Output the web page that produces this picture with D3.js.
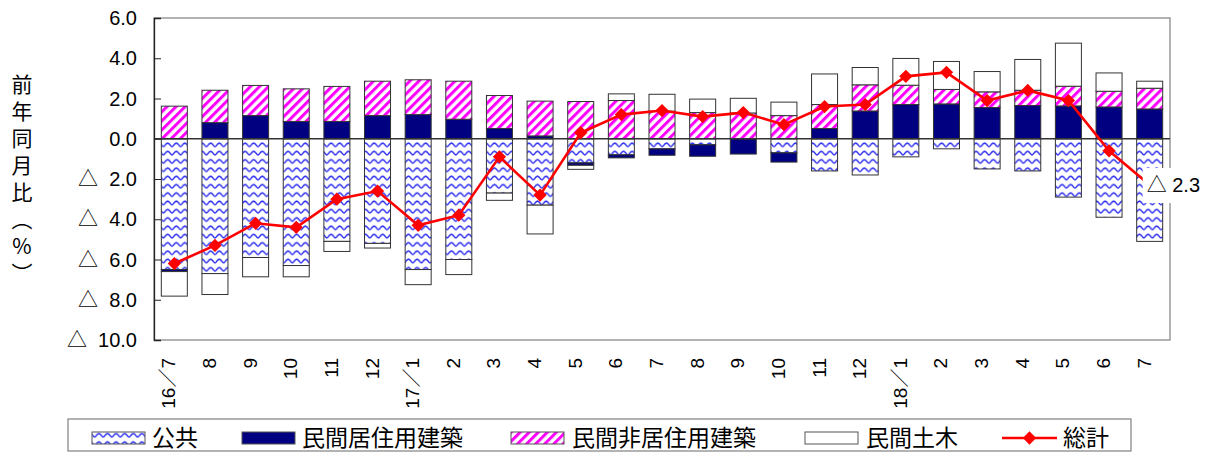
<!DOCTYPE html>
<html>
<head>
<meta charset="utf-8">
<script src="https://cdn.jsdelivr.net/npm/d3@7"></script>
<style>
  body { margin: 0; background: #fff; }
  svg text { font-family: "Liberation Sans", "Noto Sans CJK JP", sans-serif; fill: #000; }
  .jp { font-family: "Noto Sans CJK JP", sans-serif; }
</style>
</head>
<body>
<script>
// month labels along the bottom
var months = ["16／7","8","9","10","11","12","17／1","2","3","4","5","6","7","8","9","10","11","12","18／1","2","3","4","5","6","7"];

// contributions by sector (% points)
var publicWorks = [-6.5,-6.7,-5.9,-6.3,-5.1,-5.2,-6.5,-6.0,-2.7,-3.3,-1.2,-0.8,-0.5,-0.3,0.0,-0.7,-1.6,-1.8,-0.9,-0.5,-1.5,-1.6,-2.9,-3.9,-5.1];
var residential = [-0.1,0.8,1.15,0.86,0.86,1.15,1.2,0.97,0.51,0.14,-0.12,-0.15,-0.32,-0.57,-0.76,-0.46,0.51,1.38,1.7,1.73,1.55,1.65,1.63,1.58,1.48];
var nonResidential = [1.62,1.61,1.5,1.62,1.74,1.71,1.73,1.89,1.64,1.73,1.85,1.9,1.37,1.3,1.28,1.15,1.19,1.3,0.96,0.72,0.78,0.76,0.98,0.78,1.03];
var civil = [-1.22,-1.04,-0.96,-0.56,-0.5,-0.23,-0.75,-0.75,-0.36,-1.43,-0.2,0.33,0.84,0.67,0.73,0.67,1.52,0.86,1.33,1.39,1.01,1.53,2.14,0.91,0.35];
// overall year-on-year change
var total = [-6.2,-5.3,-4.2,-4.4,-3.0,-2.6,-4.3,-3.8,-0.9,-2.8,0.3,1.2,1.4,1.1,1.3,0.7,1.6,1.7,3.1,3.3,1.9,2.4,1.9,-0.6,-2.3];

var yTicks = [6,4,2,0,-2,-4,-6,-8,-10];
var seriesNames = ["公共","民間居住用建築","民間非居住用建築","民間土木","総計"];
var yTitle = "前年同月比︵%︶";

var W = 1216, H = 452;
var plot = {left: 154, right: 1170, top: 18, bottom: 340};

var svg = d3.select("body").append("svg")
    .attr("width", W)
    .attr("height", H);

var defs = svg.append("defs");
// wavy blue fill for 公共
var wave = defs.append("pattern")
    .attr("id", "wave")
    .attr("patternUnits", "userSpaceOnUse")
    .attr("width", 8.6).attr("height", 8.3);
wave.append("rect").attr("width", 8.6).attr("height", 8.3).attr("fill", "#fff");
wave.append("path")
    .attr("d", "M0,5.5 C1.4,5.5 2.2,2 4.3,2 C6.4,2 7.2,5.5 8.6,5.5")
    .attr("fill", "none")
    .attr("stroke", "#2a2af0")
    .attr("stroke-width", 1.5);
// magenta diagonal stripes for 民間非居住用建築
var stripe = defs.append("pattern")
    .attr("id", "stripe")
    .attr("patternUnits", "userSpaceOnUse")
    .attr("width", 6.4).attr("height", 6.4)
    .attr("patternTransform", "rotate(45)");
stripe.append("rect").attr("width", 6.4).attr("height", 6.4).attr("fill", "#fff");
stripe.append("rect").attr("width", 3).attr("height", 6.4).attr("fill", "#ff00ff");

var fills = ["url(#wave)", "#000080", "url(#stripe)", "#ffffff"];

// scales
var x = d3.scaleBand()
    .domain(d3.range(months.length))
    .range([plot.left, plot.right])
    .paddingInner(0.36)
    .paddingOuter(0.18);
var y = d3.scaleLinear().domain([-10, 6]).range([plot.bottom, plot.top]);

// stack: positives upward, negatives downward (like Excel)
var table = months.map(function(m, i) {
  return {i: i, v: [publicWorks[i], residential[i], nonResidential[i], civil[i]]};
});
var segs = [];
table.forEach(function(d) {
  var pos = 0, neg = 0;
  d.v.forEach(function(val, k) {
    if (val >= 0) { segs.push({i: d.i, k: k, y0: pos, y1: pos + val}); pos += val; }
    else { segs.push({i: d.i, k: k, y0: neg + val, y1: neg}); neg += val; }
  });
});

// plot frame
svg.append("rect")
    .attr("x", plot.left).attr("y", plot.top)
    .attr("width", plot.right - plot.left).attr("height", plot.bottom - plot.top)
    .attr("fill", "none").attr("stroke", "#808080").attr("stroke-width", 1.2);

// bars
svg.append("g").selectAll("rect")
  .data(segs.filter(function(s) { return s.y1 - s.y0 > 0.001; }))
  .enter().append("rect")
    .attr("x", function(s) { return x(s.i); })
    .attr("width", x.bandwidth())
    .attr("y", function(s) { return y(s.y1); })
    .attr("height", function(s) { return y(s.y0) - y(s.y1); })
    .attr("fill", function(s) { return fills[s.k]; })
    .attr("stroke", "#333")
    .attr("stroke-width", 1);

// zero line
svg.append("line")
    .attr("x1", plot.left).attr("x2", plot.right)
    .attr("y1", y(0)).attr("y2", y(0))
    .attr("stroke", "#333").attr("stroke-width", 1.3);

// y axis with inside ticks
var yAxis = svg.append("g")
    .attr("transform", "translate(" + plot.left + ",0)")
    .call(d3.axisRight(y).tickValues(yTicks).tickSize(7).tickFormat(""));
yAxis.select(".domain").attr("stroke", "#222").attr("stroke-width", 1.3);
yAxis.selectAll(".tick line").attr("stroke", "#222");

svg.append("g").selectAll("text")
  .data(yTicks)
  .enter().append("text")
    .attr("x", 137)
    .attr("y", function(d) { return y(d); })
    .attr("dy", "0.36em")
    .attr("text-anchor", "end")
    .style("font-size", "20px")
    .text(function(d) { return d < 0 ? "△\u00a0\u00a0" + Math.abs(d).toFixed(1) : d.toFixed(1); });

// x labels, rotated
svg.append("g").selectAll("text")
  .data(months)
  .enter().append("text")
    .attr("transform", function(d, i) {
      return "translate(" + (x(i) + x.bandwidth() / 2 + 1) + ",358) rotate(-90)";
    })
    .attr("text-anchor", "end")
    .style("font-size", "19px")
    .text(function(d) { return d; });

// y axis title, vertical
svg.append("text")
    .attr("class", "jp")
    .attr("x", 22)
    .attr("y", 74)
    .style("writing-mode", "vertical-rl")
    .style("text-orientation", "upright")
    .style("letter-spacing", "6px")
    .style("font-size", "21px")
    .text(yTitle);

// total line
var line = d3.line()
    .x(function(d, i) { return x(i) + x.bandwidth() / 2; })
    .y(function(d) { return y(d); });
svg.append("path")
    .datum(total)
    .attr("d", line)
    .attr("fill", "none")
    .attr("stroke", "#ff0000")
    .attr("stroke-width", 2.6);
var diamond = d3.symbol().type(d3.symbolSquare).size(88);
svg.append("g").selectAll("path")
  .data(total)
  .enter().append("path")
    .attr("d", diamond)
    .attr("transform", function(d, i) {
      return "translate(" + (x(i) + x.bandwidth() / 2) + "," + y(d) + ") rotate(45)";
    })
    .attr("fill", "#ff0000");

// data label on the last point
var last = total.length - 1;
var lx = x(last) + x.bandwidth() / 2, ly = y(total[last]);
svg.append("rect")
    .attr("x", lx - 7).attr("y", ly - 17)
    .attr("width", 66).attr("height", 35)
    .attr("fill", "#fff");
svg.append("text")
    .attr("x", lx - 3).attr("y", ly)
    .attr("dy", "0.36em")
    .style("font-size", "20px")
    .text("△\u00a0" + Math.abs(total[last]).toFixed(1));

// legend
var lg = svg.append("g");
lg.append("rect")
    .attr("x", 68).attr("y", 419).attr("width", 1063).attr("height", 32)
    .attr("fill", "#fff").attr("stroke", "#808080").attr("stroke-width", 1.2);
var swX = [92, 242, 511, 805, 1002];
var txX = [152, 302, 572, 866, 1063];
seriesNames.forEach(function(name, k) {
  if (k < 4) {
    lg.append("rect")
        .attr("x", swX[k]).attr("y", 432).attr("width", 53).attr("height", 12)
        .attr("fill", fills[k]).attr("stroke", "#555").attr("stroke-width", 1);
  } else {
    lg.append("line")
        .attr("x1", swX[k]).attr("x2", swX[k] + 55).attr("y1", 438).attr("y2", 438)
        .attr("stroke", "#ff0000").attr("stroke-width", 2.6);
    lg.append("path")
        .attr("d", diamond)
        .attr("transform", "translate(" + (swX[k] + 27.5) + ",438) rotate(45)")
        .attr("fill", "#ff0000");
  }
  lg.append("text")
      .attr("class", "jp")
      .attr("x", txX[k]).attr("y", 438)
      .attr("dy", "0.36em")
      .style("font-size", "23px")
      .text(name);
});
</script>
</body>
</html>
